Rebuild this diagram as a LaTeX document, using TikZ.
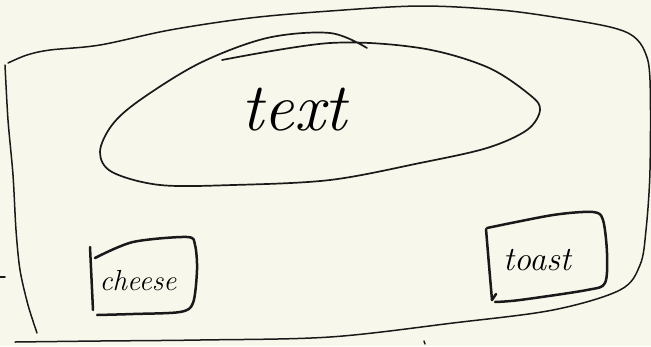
\documentclass[tikz,border=0pt]{standalone}
\begin{document}
\begin{tikzpicture}[x=1pt,y=-1pt,
  ink/.style={draw=black!90, line cap=round, line join=round},
  thin ink/.style={ink, line width=1.5pt},
  bold ink/.style={ink, line width=2.5pt},
  hand/.style={font=\fontsize{#1}{#1}\selectfont\itshape, inner sep=0pt}]
\useasboundingbox[fill={rgb,255:red,248;green,247;blue,235}] (0,0) rectangle (651,346);
% outer frame
\draw[thin ink] plot[smooth, tension=0.55] coordinates {(8,63) (27,55) (50,50) (100,45) (170,30) (250,18) (330,11) (420,6) (500,10) (560,18) (610,27) (633,36) (645,52) (650,80) (650,170) (646,230) (640,265) (620,290) (553,310) (453,323) (330,337) (200,340) (100,341) (15,342)};
\draw[thin ink] plot[smooth, tension=0.5] coordinates {(5,65) (8,120) (13,175) (16,230) (20,270) (28,305) (37,333)};
\draw[thin ink] (0,277) -- (5,277);
\draw[thin ink] (424,341) -- (425,344);
% ellipse
\draw[ink, line width=1.7pt] plot[smooth, tension=0.55] coordinates {(222,60) (330,43) (420,48) (487,67) (530,95) (540,110) (527,130) (487,148) (420,163) (330,180) (233,185) (160,185) (112,172) (100,152) (112,125) (140,100) (200,63) (267,38) (330,33) (367,48)};
\node[hand=68pt] (text) at (294,110) {text};
% cheese box
\draw[bold ink] (90,247) -- (93,310);
\draw[bold ink] plot[smooth, tension=0.5] coordinates {(95,258) (133,242) (187,237) (195,245) (197,270) (193,303) (180,312) (133,314) (97,315)};
\node[hand=29pt] (cheese) at (138,281) {cheese};
% toast box
\draw[bold ink] plot[smooth, tension=0.5] coordinates {(486,229) (489,265) (492,300)};
\draw[bold ink] (492,300) -- (496,294);
\draw[bold ink] plot[smooth, tension=0.5] coordinates {(487,228) (553,215) (593,212) (603,220) (607,253) (605,283) (587,290) (520,300) (495,302)};
\node[hand=34pt] (toast) at (537,260) {toast};
\end{tikzpicture}
\end{document}
